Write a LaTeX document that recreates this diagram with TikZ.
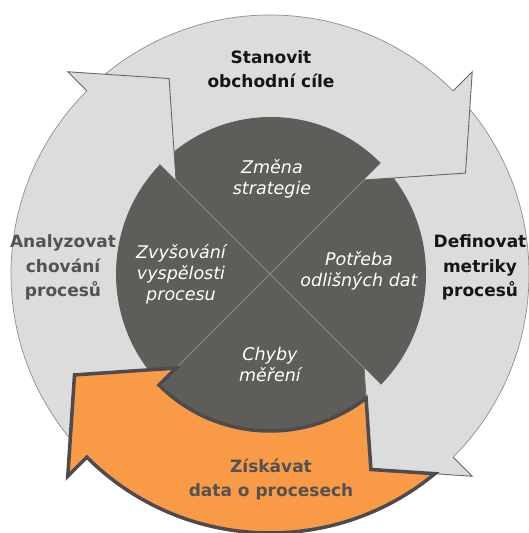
\documentclass[tikz,border=0pt]{standalone}
\usepackage{fontspec}
\setmainfont{DejaVu Sans}
\usetikzlibrary{calc}
\definecolor{ringgray}{HTML}{DCDCDC}
\definecolor{circleline}{HTML}{8E8E8E}
\definecolor{darkdisc}{HTML}{5E5D59}
\definecolor{xlinecol}{HTML}{8C8B88}
\definecolor{headline}{HTML}{66656A}
\definecolor{orangefill}{HTML}{F99A46}
\definecolor{orangeborder}{HTML}{4D4A50}
\definecolor{labeldark}{HTML}{151515}
\definecolor{labelgray}{HTML}{525252}
\tikzset{
  ringdisc/.style={fill=ringgray, draw=circleline, line width=0.7pt},
  innerdisc/.style={fill=darkdisc},
  xline/.style={draw=xlinecol, line width=0.8pt},
  headfill/.style={fill=ringgray},
  headedge/.style={draw=headline, line width=0.9pt, line join=miter},
  orangearrow/.style={fill=orangefill, draw=orangeborder, line width=3.5pt, line join=miter, miter limit=10},
  outerlabel/.style={font=\fontsize{17}{24.5}\selectfont\bfseries, align=center, anchor=base, inner sep=0pt},
  innerlabel/.style={font=\fontsize{17.5}{21}\selectfont\itshape, text=white, align=center, anchor=base, inner sep=0pt}
}
\begin{document}
\begin{tikzpicture}[x=1pt,y=1pt]
\useasboundingbox (0,0) rectangle (528,533);
\begin{scope}[shift={(270,259)}]
  \path[ringdisc] (0,0) circle[radius=259];
  \path[innerdisc] (1,0) ellipse[x radius=155, y radius=157];
  \draw[xline] (45:157) -- (225:157);
  \draw[xline] (135:157) -- (-45:157);
  \foreach \b in {45,135,-45}{
    \path[headfill] (\b:286) -- ({\b-17.7}:220) -- (\b:133) -- cycle;
    \draw[headedge] (\b:259) -- (\b:286) -- ({\b-17.7}:220) -- (\b:133);
  }
  \path[orangearrow] (-50.45:259) -- (-62.7:220) -- (-52.27:157)
     arc[start angle=-52.27, end angle=-135, radius=157]
     -- (-135:133) -- (-152.7:220) -- (-135:286) -- (-135:259)
     arc[start angle=-135, end angle=-50.45, radius=259] -- cycle;
\end{scope}
\node[outerlabel, text=labeldark] (top) at (271,445) {Stanovit\\obchodní cíle};
\node[outerlabel, text=labeldark] (right) at (480,236) {Definovat\\metriky\\procesů};
\node[outerlabel, text=labelgray] (left) at (63,236) {Analyzovat\\chování\\procesů};
\node[outerlabel, text=labelgray] (bottom) at (271,36) {Získávat\\data o procesech};
\node[innerlabel] (zmena) at (272,338) {Změna\\strategie};
\node[innerlabel] (zvys) at (181,232) {Zvyšování\\vyspělosti\\procesu};
\node[innerlabel] (potreba) at (359,246) {Potřeba\\odlišných dat};
\node[innerlabel] (chyby) at (270,151) {Chyby\\měření};
\end{tikzpicture}
\end{document}
